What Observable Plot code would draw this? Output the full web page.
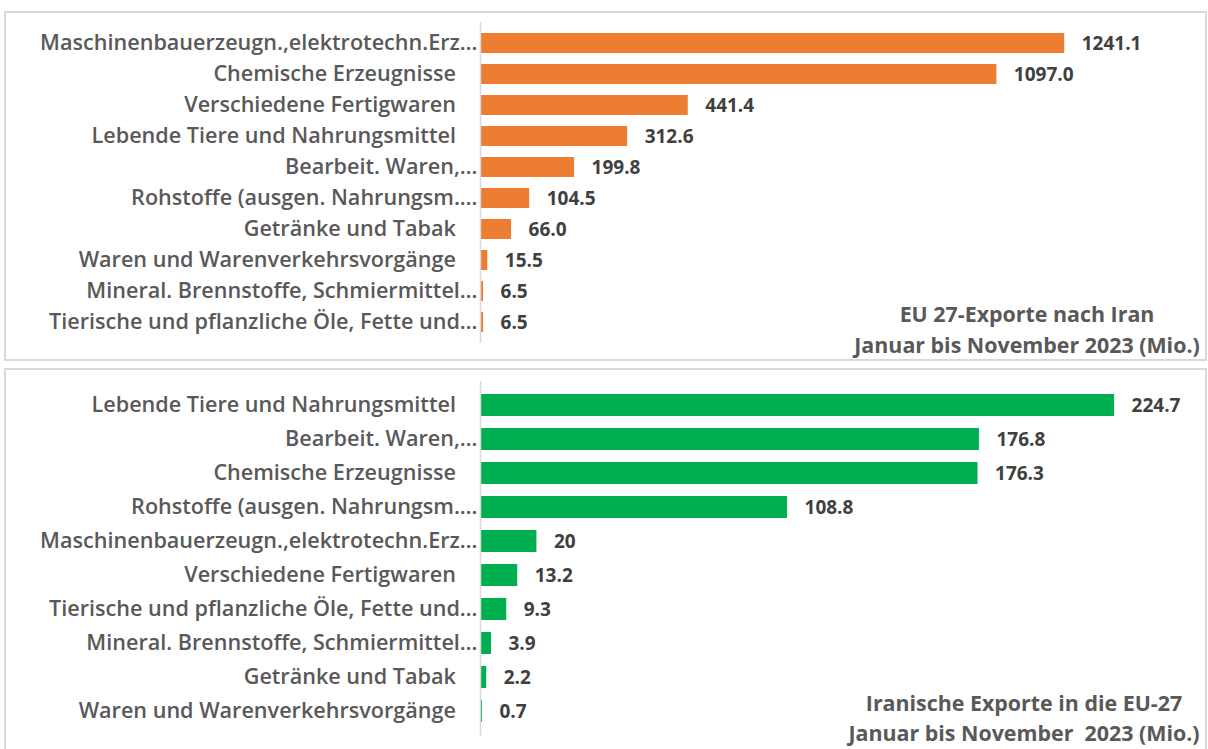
<!DOCTYPE html>
<html>
<head>
<meta charset="utf-8">
<script src="https://cdn.jsdelivr.net/npm/d3@7"></script>
<script src="https://cdn.jsdelivr.net/npm/@observablehq/plot@0.6"></script>
<style>
  html, body { margin: 0; padding: 0; background: #fff; overflow: hidden; width: 1208px; height: 749px; }
  .panel { position: absolute; left: 4px; width: 1199px; border: 2px solid #d9d9d9; background: #fff; }
  .panel svg { display: block; }
  .title { position: absolute; width: 440px; text-align: center; font-family: "Open Sans", sans-serif; font-weight: 700; font-size: 21.4px; line-height: 31px; color: #595959; white-space: nowrap; }
</style>
</head>
<body>
<div id="p1" class="panel" style="top:11px;height:346px;"></div>
<div id="p2" class="panel" style="top:368px;height:390px;"></div>
<div class="title" style="left:807px;top:298px;">EU 27-Exporte nach Iran<br>Januar bis November 2023 (Mio.)</div>
<div class="title" style="left:804px;top:688px;line-height:29.5px;">Iranische Exporte in die EU-27<br>Januar bis November&nbsp; 2023 (Mio.)</div>
<script>
const euCategories = [
  "Maschinenbauerzeugn.,elektrotechn.Erz…",
  "Chemische Erzeugnisse",
  "Verschiedene Fertigwaren",
  "Lebende Tiere und Nahrungsmittel",
  "Bearbeit. Waren,…",
  "Rohstoffe (ausgen. Nahrungsm.…",
  "Getränke und Tabak",
  "Waren und Warenverkehrsvorgänge",
  "Mineral. Brennstoffe, Schmiermittel…",
  "Tierische und pflanzliche Öle, Fette und…"
];
const euValues = [1241.1, 1097.0, 441.4, 312.6, 199.8, 104.5, 66.0, 15.5, 6.5, 6.5];
const euLabels = ["1241.1", "1097.0", "441.4", "312.6", "199.8", "104.5", "66.0", "15.5", "6.5", "6.5"];

const irCategories = [
  "Lebende Tiere und Nahrungsmittel",
  "Bearbeit. Waren,…",
  "Chemische Erzeugnisse",
  "Rohstoffe (ausgen. Nahrungsm.…",
  "Maschinenbauerzeugn.,elektrotechn.Erz…",
  "Verschiedene Fertigwaren",
  "Tierische und pflanzliche Öle, Fette und…",
  "Mineral. Brennstoffe, Schmiermittel…",
  "Getränke und Tabak",
  "Waren und Warenverkehrsvorgänge"
];
const irValues = [224.7, 176.8, 176.3, 108.8, 20, 13.2, 9.3, 3.9, 2.2, 0.7];
const irLabels = ["224.7", "176.8", "176.3", "108.8", "20", "13.2", "9.3", "3.9", "2.2", "0.7"];

const euColor = "#ED7D31";
const irColor = "#00B050";

function tickFmt(d) {
  return d.endsWith("…") ? d : d + "\u2002\u2002";
}

function makeChart(cats, vals, labels, color, opts) {
  const data = cats.map((c, i) => ({cat: c, value: vals[i], label: labels[i]}));
  return Plot.plot({
    width: 1199,
    height: opts.height,
    marginLeft: 474,
    marginRight: opts.marginRight,
    marginTop: opts.marginTop,
    marginBottom: opts.marginBottom,
    style: {fontFamily: "'Open Sans', sans-serif", background: "#fff"},
    x: {domain: [0, opts.xmax], axis: null},
    y: {domain: cats, padding: opts.padding, label: null},
    marks: [
      Plot.barX(data, {x: "value", y: "cat", fill: color}),
      Plot.ruleX([0], {stroke: "#d9d9d9", strokeWidth: 1.5}),
      Plot.axisY({tickSize: 0, tickPadding: 3, tickFormat: tickFmt, fontSize: 21.6, fill: "#595959", fontWeight: 600, label: null}),
      Plot.text(data, {x: "value", y: "cat", text: "label", textAnchor: "start", dx: 17, fontSize: 19, fontWeight: 700, fill: "#404040"})
    ]
  });
}

document.getElementById("p1").appendChild(makeChart(euCategories, euValues, euLabels, euColor,
  {height: 346, marginTop: 9, marginBottom: 16, marginRight: 66, xmax: 1400, padding: 0.34}));
document.getElementById("p2").appendChild(makeChart(irCategories, irValues, irLabels, irColor,
  {height: 380, marginTop: 11, marginBottom: 14, marginRight: 19.5, xmax: 250, padding: 0.34}));
</script>
</body>
</html>
